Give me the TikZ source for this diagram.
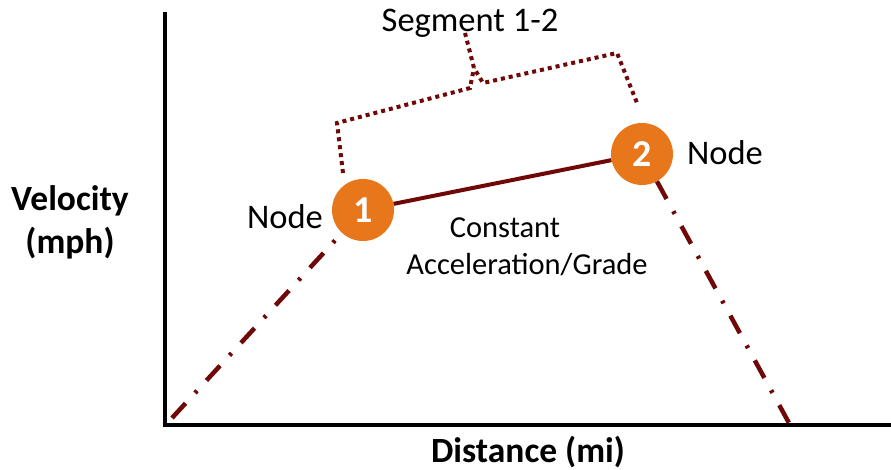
\documentclass[tikz,border=0pt]{standalone}
\usepackage{fontspec}
\setmainfont{Carlito}
\definecolor{darkred}{RGB}{112,8,8}
\definecolor{nodeorange}{RGB}{232,118,26}
\begin{document}
\begin{tikzpicture}[x=1pt,y=-1pt,
  axis/.style={line width=4pt,black},
  seg/.style={line width=4pt,darkred},
  dashdot/.style={line width=4.5pt,darkred,dash pattern=on 20pt off 14pt on 3pt off 14pt},
  brace/.style={line width=4pt,darkred,dash pattern=on 4pt off 4pt},
  circ/.style={circle,fill=nodeorange,minimum size=62pt,inner sep=0pt,text=white,font=\fontsize{38}{44}\selectfont\bfseries},
  lbl/.style={font=\fontsize{34.5}{40}\selectfont,inner sep=0pt},
  small/.style={font=\fontsize{30.5}{38}\selectfont,inner sep=0pt},
  bold/.style={font=\fontsize{35.5}{43}\selectfont\bfseries,inner sep=0pt,align=center}]
\useasboundingbox (0,0) rectangle (891,470);
\coordinate (ytop) at (165,12);
\coordinate (orig) at (165,425);
\coordinate (xend) at (891,425);
\draw[axis] (ytop) -- (orig) -- (xend);
\coordinate (s) at (172,418);
\coordinate (e) at (789,423);
\node[circ] (n1) at (363,210) {1};
\node[circ] (n2) at (642,154) {2};
\draw[dashdot] (s) -- (n1);
\draw[dashdot] (n2) -- (e);
\draw[seg] (n1) -- (n2);
\coordinate (b1) at (343,173);
\coordinate (b2) at (337,123);
\coordinate (b3) at (470,88);
\coordinate (b4) at (474,68);
\coordinate (b5) at (465,33);
\coordinate (b6) at (483,83);
\coordinate (b7) at (617,53);
\coordinate (b8) at (637,103);
\draw[brace] (b1) -- (b2) -- (b3) -- (b4);
\draw[brace] (b5) -- (b4) -- (b6) -- (b7) -- (b8);
\node[lbl] (seglbl) at (470,23) {Segment 1-2};
\node[lbl] (node1lbl) at (285,217) {Node};
\node[lbl] (node2lbl) at (725,153) {Node};
\node[small] (const) at (505,228) {Constant};
\node[small] (accel) at (527,265) {Acceleration/Grade};
\node[bold] (vel) at (70,222) {Velocity\\(mph)};
\node[bold] (dist) at (528,452) {Distance (mi)};
\end{tikzpicture}
\end{document}
